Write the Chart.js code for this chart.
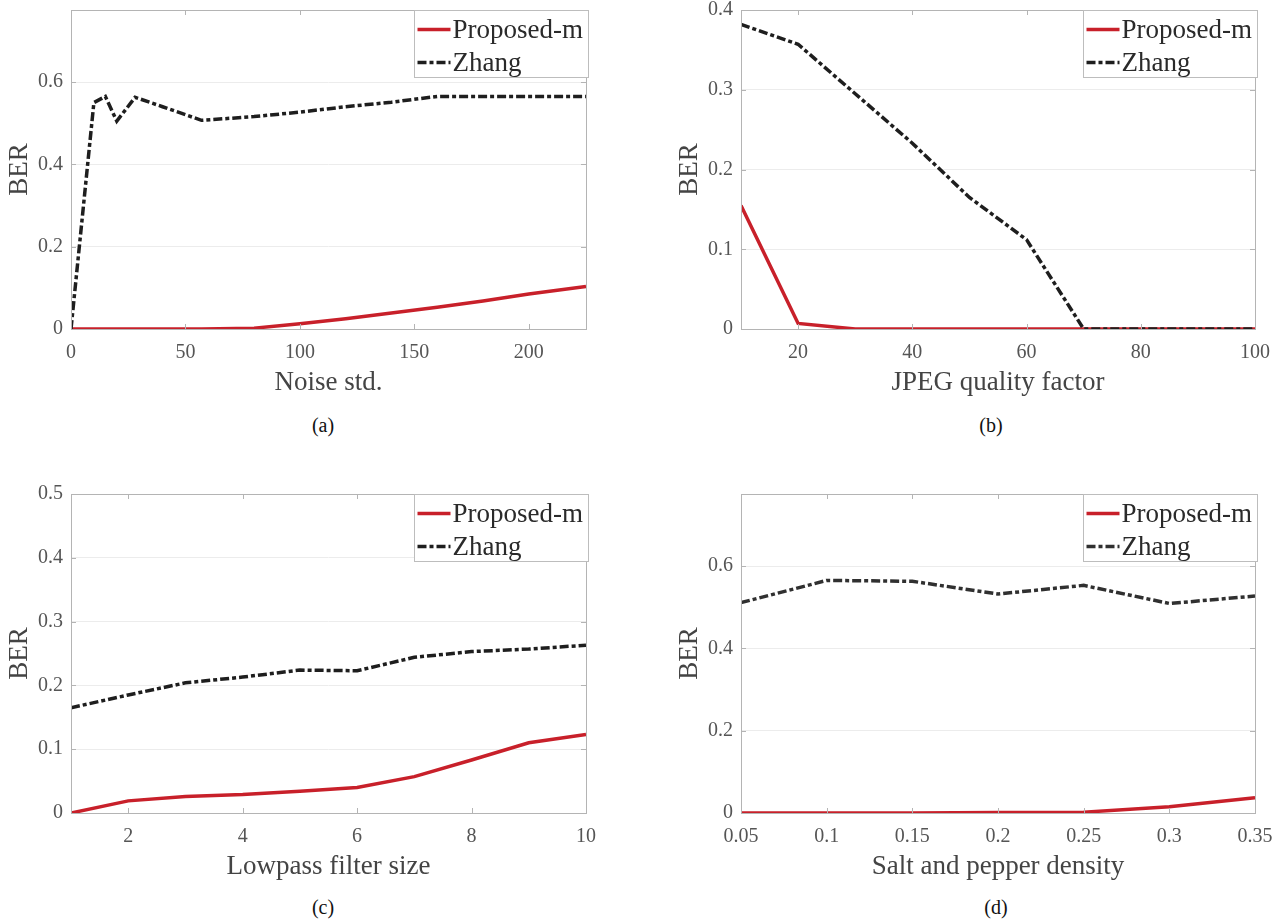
<!DOCTYPE html>
<html>
<head>
<meta charset="utf-8">
<script src="https://cdn.jsdelivr.net/npm/chart.js@4.4.1/dist/chart.umd.min.js"></script>
<style>
body { margin: 0; background: #fff; width: 1282px; height: 919px; position: relative; overflow: hidden; }
canvas { position: absolute; }
.cap { position: absolute; font: 20px/23px 'Liberation Serif', 'Times New Roman', serif; color: #111; transform: translateX(-50%); }
</style>
</head>
<body>
<canvas id="chartNoise" width="640" height="400" style="left:0;top:0"></canvas>
<canvas id="chartJpeg" width="642" height="400" style="left:640px;top:0"></canvas>
<canvas id="chartLowpass" width="640" height="400" style="left:0;top:484px"></canvas>
<canvas id="chartSalt" width="642" height="400" style="left:640px;top:484px"></canvas>
<div class="cap" style="left:323px;top:414px">(a)</div>
<div class="cap" style="left:991px;top:414px">(b)</div>
<div class="cap" style="left:323px;top:896px">(c)</div>
<div class="cap" style="left:996px;top:896px">(d)</div>
<script>
const FONT = "'Liberation Serif', 'Times New Roman', serif";
const RED = '#c8202a';
const DARK = '#1e1e1e';

// (a) Gaussian noise
const noiseStd = [0, 10, 15, 20, 28, 40, 57, 80, 100, 120, 140, 160, 180, 200, 225];
const noiseProposed = [0, 0, 0, 0, 0, 0, 0, 0.002, 0.013, 0.025, 0.039, 0.053, 0.068, 0.085, 0.103];
const noiseZhang = [0, 0.55, 0.565, 0.505, 0.563, 0.54, 0.507, 0.516, 0.527, 0.54, 0.551, 0.565, 0.565, 0.565, 0.565];
const noiseTicks = [0, 50, 100, 150, 200];

// (b) JPEG compression
const jpegQuality = [10, 20, 30, 40, 50, 60, 70, 80, 90, 100];
const jpegProposed = [0.155, 0.007, 0, 0, 0, 0, 0, 0, 0, 0];
const jpegZhang = [0.382, 0.357, 0.295, 0.233, 0.165, 0.112, 0, 0, 0, 0];
const jpegTicks = [20, 40, 60, 80, 100];
const jpegBerTicks = [0, 0.1, 0.2, 0.3, 0.4];

// (c) lowpass filtering
const filterSize = [1, 2, 3, 4, 5, 6, 7, 8, 9, 10];
const filterProposed = [0, 0.019, 0.026, 0.029, 0.034, 0.040, 0.057, 0.083, 0.110, 0.123];
const filterZhang = [0.165, 0.185, 0.204, 0.213, 0.224, 0.223, 0.244, 0.253, 0.257, 0.263];
const filterTicks = [2, 4, 6, 8, 10];
const filterBerTicks = [0, 0.1, 0.2, 0.3, 0.4, 0.5];

// (d) salt and pepper
const saltDensity = [0.05, 0.1, 0.15, 0.2, 0.25, 0.3, 0.35];
const saltProposed = [0, 0, 0, 0.001, 0.002, 0.015, 0.037];
const saltZhang = [0.511, 0.565, 0.563, 0.532, 0.553, 0.509, 0.527];
const saltTicks = [0.05, 0.1, 0.15, 0.2, 0.25, 0.3, 0.35];

const wideBerTicks = [0, 0.2, 0.4, 0.6];

const toPoints = (xs, ys) => xs.map((x, i) => ({ x: x, y: ys[i] }));
const fmt = v => String(Number(v.toFixed(3)));

// MATLAB-like box: frame, inward tick marks and a boxed legend in the corner
const matlabFrame = {
    id: 'matlabFrame',
    afterDatasetsDraw(chart) {
        const { ctx, chartArea: a, scales } = chart;
        ctx.save();
        ctx.strokeStyle = '#b4b4b4';
        ctx.lineWidth = 1;
        ctx.beginPath();
        scales.x.ticks.forEach(t => {
            const px = Math.round(scales.x.getPixelForValue(t.value)) + 0.5;
            ctx.moveTo(px, a.bottom); ctx.lineTo(px, a.bottom - 5);
            ctx.moveTo(px, a.top); ctx.lineTo(px, a.top + 5);
        });
        scales.y.ticks.forEach(t => {
            const py = Math.round(scales.y.getPixelForValue(t.value)) + 0.5;
            ctx.moveTo(a.left, py); ctx.lineTo(a.left + 5, py);
            ctx.moveTo(a.right, py); ctx.lineTo(a.right - 5, py);
        });
        ctx.stroke();
        ctx.strokeRect(Math.round(a.left) + 0.5, Math.round(a.top) + 0.5,
            Math.round(a.right - a.left), Math.round(a.bottom - a.top));

        // legend
        const bw = 174, bh = 67;
        const bx = Math.round(a.right - bw) + 2.5, by = Math.round(a.top) + 0.5;
        ctx.fillStyle = '#fff';
        ctx.fillRect(bx, by, bw, bh);
        ctx.strokeStyle = '#bdbdbd';
        ctx.strokeRect(bx, by, bw, bh);
        ctx.font = '27px ' + FONT;
        ctx.textBaseline = 'middle';
        chart.data.datasets.forEach((ds, i) => {
            const ly = by + 19 + i * 33;
            ctx.beginPath();
            ctx.strokeStyle = ds.borderColor;
            ctx.lineWidth = 3.5;
            ctx.setLineDash(ds.borderDash || []);
            ctx.moveTo(bx + 3, ly);
            ctx.lineTo(bx + 36, ly);
            ctx.stroke();
            ctx.setLineDash([]);
            ctx.fillStyle = '#2a2a2a';
            ctx.fillText(ds.label, bx + 38, ly + 1);
        });
        ctx.restore();
    }
};

window.renderPanel = (canvasId, cfg) => {
    const ctx = document.getElementById(canvasId);
    return new Chart(ctx, {
        type: 'line',
        data: {
            datasets: [{
                label: 'Proposed-m',
                data: toPoints(cfg.x, cfg.proposed),
                borderColor: RED,
                borderWidth: 3.5,
                pointRadius: 0,
                tension: 0,
                order: 1
            }, {
                label: 'Zhang',
                data: toPoints(cfg.x, cfg.zhang),
                borderColor: cfg.zhangColor || DARK,
                borderWidth: 3.5,
                borderDash: [9, 3, 4, 3],
                pointRadius: 0,
                tension: 0,
                order: 0
            }]
        },
        options: {
            responsive: false,
            animation: false,
            layout: { padding: { left: cfg.padLeft, right: ctx.width - cfg.plotRight, top: 10, bottom: 0 } },
            plugins: { legend: { display: false }, tooltip: { enabled: false } },
            scales: {
                x: {
                    type: 'linear',
                    min: cfg.xMin,
                    max: cfg.xMax,
                    afterBuildTicks: s => { s.ticks = cfg.xTicks.map(v => ({ value: v })); },
                    afterFit: s => {
                        s.height = 71;
                        s.paddingLeft = 0; s.paddingRight = 0;
                    },
                    grid: { display: false },
                    border: { display: false },
                    ticks: {
                        font: { family: FONT, size: 20 },
                        color: '#555',
                        padding: 4,
                        maxRotation: 0,
                        autoSkip: false,
                        callback: v => fmt(v)
                    },
                    title: {
                        display: true,
                        text: cfg.xTitle,
                        font: { family: FONT, size: 27 },
                        color: '#444',
                        padding: { top: 0, bottom: 1 }
                    }
                },
                y: {
                    min: 0,
                    max: cfg.yMax,
                    afterBuildTicks: s => { s.ticks = cfg.yTicks.map(v => ({ value: v })); },
                    afterFit: s => {
                        s.width = cfg.plotLeft - cfg.padLeft;
                        s.paddingTop = 0; s.paddingBottom = 0;
                    },
                    grid: { color: '#ececec', drawTicks: false },
                    border: { display: false },
                    ticks: {
                        font: { family: FONT, size: 20 },
                        color: '#555',
                        padding: 8,
                        autoSkip: false,
                        callback: v => fmt(v)
                    },
                    title: {
                        display: true,
                        text: 'BER',
                        font: { family: FONT, size: 27 },
                        color: '#444',
                        padding: { top: 4, bottom: 0 }
                    }
                }
            }
        },
        plugins: [matlabFrame]
    });
};

renderPanel('chartNoise', {
    x: noiseStd, proposed: noiseProposed, zhang: noiseZhang,
    xMin: 0, xMax: 225, xTicks: noiseTicks, yMax: 0.775, yTicks: wideBerTicks,
    xTitle: 'Noise std.', padLeft: 0, plotLeft: 71, plotRight: 586
});
renderPanel('chartJpeg', {
    x: jpegQuality, proposed: jpegProposed, zhang: jpegZhang,
    xMin: 10, xMax: 100, xTicks: jpegTicks, yMax: 0.4, yTicks: jpegBerTicks,
    xTitle: 'JPEG quality factor', padLeft: 30, plotLeft: 101, plotRight: 615
});
renderPanel('chartLowpass', {
    x: filterSize, proposed: filterProposed, zhang: filterZhang,
    xMin: 1, xMax: 10, xTicks: filterTicks, yMax: 0.5, yTicks: filterBerTicks,
    xTitle: 'Lowpass filter size', padLeft: 0, plotLeft: 71, plotRight: 586
});
renderPanel('chartSalt', {
    x: saltDensity, proposed: saltProposed, zhang: saltZhang, zhangColor: '#303030',
    xMin: 0.05, xMax: 0.35, xTicks: saltTicks, yMax: 0.775, yTicks: wideBerTicks,
    xTitle: 'Salt and pepper density', padLeft: 30, plotLeft: 101, plotRight: 615
});
</script>
</body>
</html>
